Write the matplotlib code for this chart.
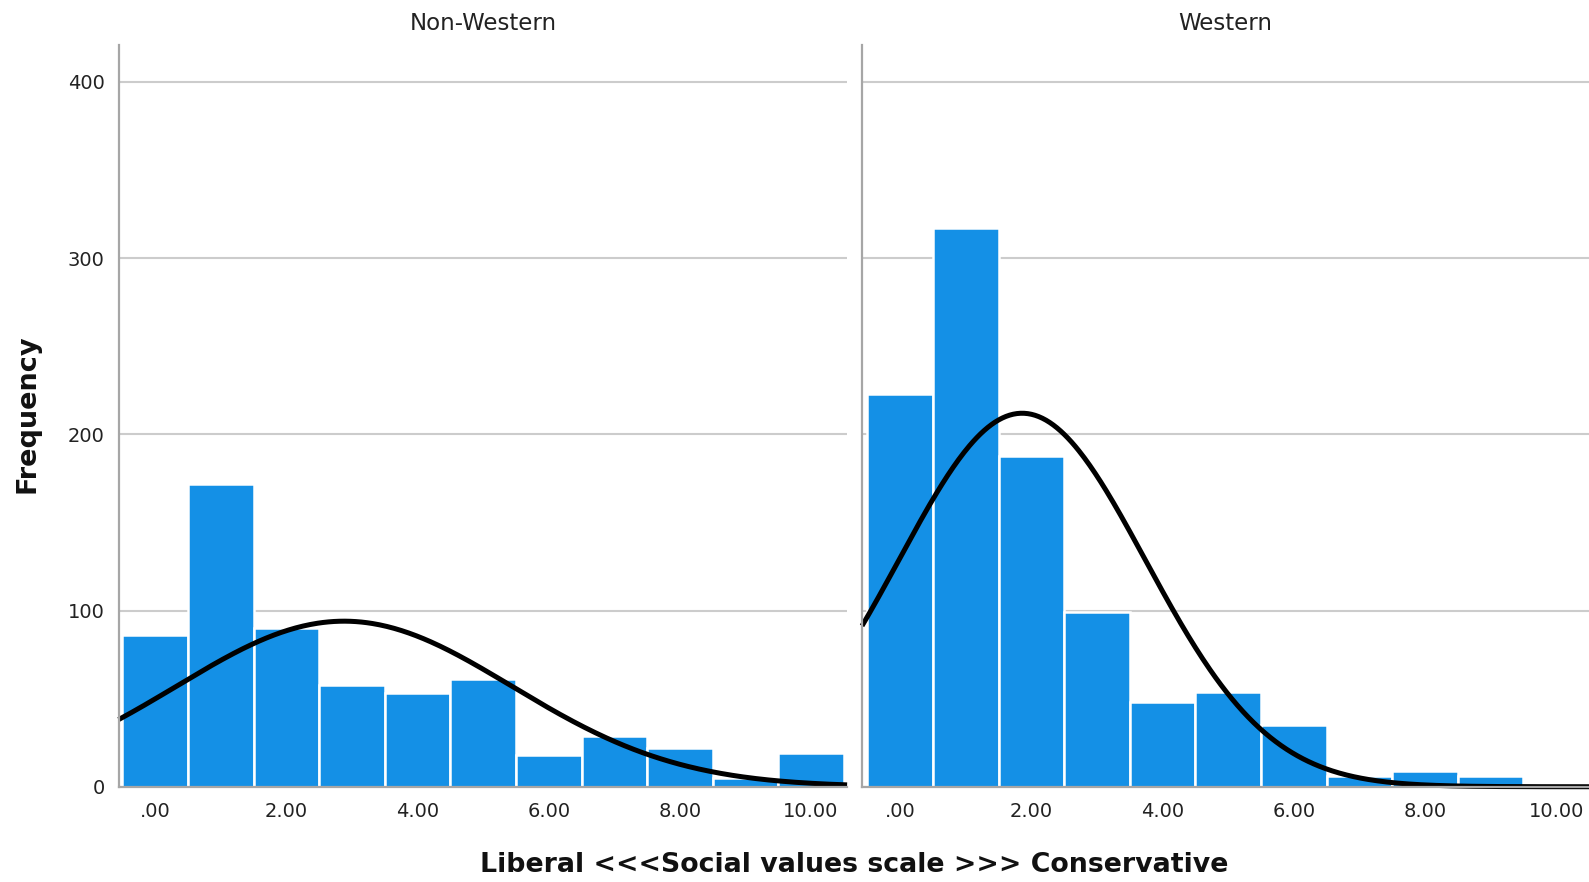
import matplotlib.pyplot as plt
import numpy as np

# bin centres of the social values scale (bin width 1)
bins = np.arange(0, 11)
xticks = [0, 2, 4, 6, 8, 10]
xticklabels = [".00", "2.00", "4.00", "6.00", "8.00", "10.00"]
yticks = [0, 100, 200, 300, 400]

# frequencies per group
non_western = [86, 172, 90, 58, 53, 61, 18, 29, 22, 5, 19]
western = [223, 317, 188, 99, 48, 54, 35, 6, 9, 6, 0]

# normal curve parameters (mean, std dev, N)
nw_mean, nw_sd, nw_n = 2.88, 2.56, 603
w_mean, w_sd, w_n = 1.86, 1.88, 999

bar_color = "#1490e6"
spine_color = "#a6a6a6"
grid_color = "#cccccc"


def normal_curve(x, mean, sd, n):
    return n / (sd * np.sqrt(2 * np.pi)) * np.exp(-0.5 * ((x - mean) / sd) ** 2)


fig = plt.figure(figsize=(15.89, 8.82), dpi=100)
ax1 = fig.add_axes([0.0746, 0.108, 0.4585, 0.841])
ax2 = fig.add_axes([0.5425, 0.108, 0.4575, 0.841])

panels = [
    (ax1, "Non-Western", non_western, nw_mean, nw_sd, nw_n, (-0.56, 10.55)),
    (ax2, "Western", western, w_mean, w_sd, w_n, (-0.58, 10.5)),
]

for ax, title, counts, mean, sd, n, xlim in panels:
    ax.set_axisbelow(True)
    ax.yaxis.grid(True, color=grid_color, linewidth=1.5)
    ax.bar(bins, counts, width=1.0, color=bar_color, edgecolor="white", linewidth=1.8)
    xs = np.linspace(xlim[0], xlim[1], 400)
    ax.plot(xs, normal_curve(xs, mean, sd, n), color="black", linewidth=3.6,
            solid_capstyle="butt", clip_on=False)
    ax.set_xlim(*xlim)
    ax.set_ylim(0, 421)
    ax.set_xticks(xticks)
    ax.set_xticklabels(xticklabels, fontsize=14, color="#222222")
    ax.set_yticks(yticks)
    ax.tick_params(axis="both", length=0)
    ax.tick_params(axis="x", pad=11)
    ax.tick_params(axis="y", pad=10, labelsize=14, labelcolor="#222222")
    for side in ["top", "right"]:
        ax.spines[side].set_visible(False)
    for side in ["left", "bottom"]:
        ax.spines[side].set_color(spine_color)
        ax.spines[side].set_linewidth(1.6)
    ax.set_title(title, fontsize=16.5, color="#222222", pad=11)

ax2.set_yticklabels([])

fig.text(0.5375, 0.0195, "Liberal <<<Social values scale >>> Conservative",
         ha="center", va="center", fontsize=19.3, fontweight="bold", color="#111111")
fig.text(0.017, 0.531, "Frequency", rotation=90, ha="center", va="center",
         fontsize=19.5, fontweight="bold", color="#111111")

fig.savefig("out.png", dpi=100)
